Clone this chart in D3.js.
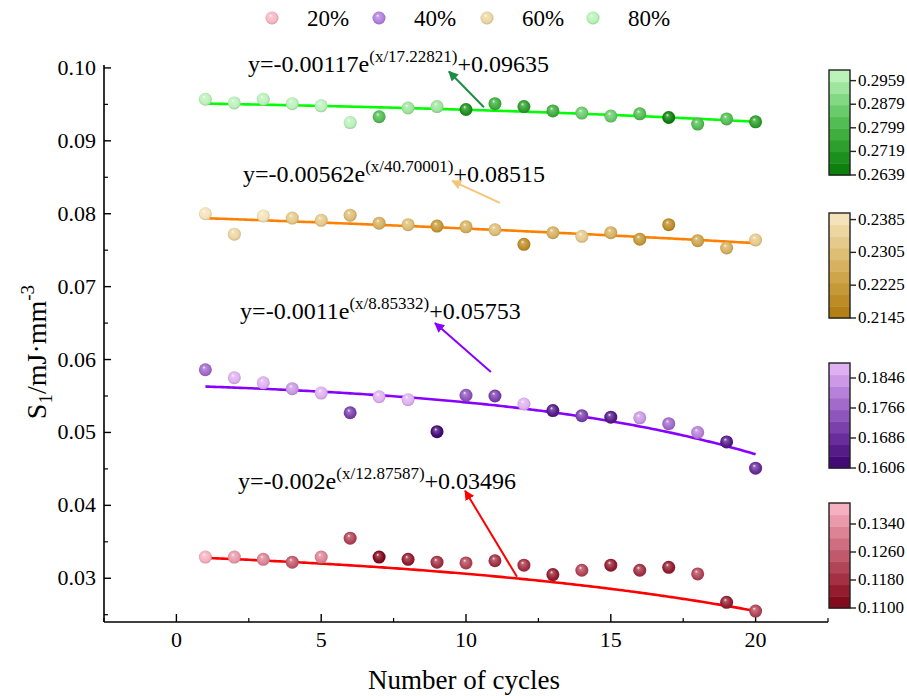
<!DOCTYPE html>
<html>
<head>
<meta charset="utf-8">
<title>S1 vs number of cycles</title>
<script src="https://cdn.jsdelivr.net/npm/d3@7/dist/d3.min.js"></script>
<style>
  body { margin: 0; background: #fff; }
  text { font-family: "Liberation Serif", "Times New Roman", serif; fill: #000; }
</style>
</head>
<body>
<script>
// ---- data ----
var cycles = d3.range(1, 21);

var s1_20 = [0.0329, 0.0329, 0.0326, 0.0322, 0.0329, 0.0355, 0.0329, 0.0326, 0.0322, 0.0321,
             0.0324, 0.0318, 0.0305, 0.0311, 0.0318, 0.0311, 0.0315, 0.0306, 0.0267, 0.0255];
var s1_40 = [0.0586, 0.0575, 0.0568, 0.0560, 0.0554, 0.0527, 0.0549, 0.0545, 0.0501, 0.0551,
             0.0550, 0.0539, 0.0530, 0.0523, 0.0521, 0.0520, 0.0512, 0.0500, 0.0487, 0.0451];
var s1_60 = [0.0800, 0.0772, 0.0797, 0.0794, 0.0791, 0.0798, 0.0787, 0.0785, 0.0783, 0.0782,
             0.0778, 0.0758, 0.0774, 0.0769, 0.0774, 0.0765, 0.0785, 0.0763, 0.0753, 0.0764];
var s1_80 = [0.0957, 0.0952, 0.0957, 0.0951, 0.0948, 0.0925, 0.0933, 0.0945, 0.0947, 0.0943,
             0.0951, 0.0947, 0.0941, 0.0938, 0.0934, 0.0937, 0.0932, 0.0923, 0.0930, 0.0926];

// colour-mapped variable of every point
var z_20 = [0.139, 0.134, 0.132, 0.124, 0.132, 0.122, 0.112, 0.116, 0.120, 0.122,
            0.117, 0.118, 0.116, 0.121, 0.114, 0.118, 0.116, 0.123, 0.115, 0.121];
var z_40 = [0.178, 0.186, 0.187, 0.185, 0.186, 0.172, 0.186, 0.187, 0.162, 0.176,
            0.170, 0.188, 0.164, 0.170, 0.166, 0.183, 0.179, 0.181, 0.166, 0.168];
var z_60 = [0.238, 0.236, 0.238, 0.232, 0.233, 0.230, 0.226, 0.230, 0.222, 0.226,
            0.230, 0.218, 0.228, 0.232, 0.226, 0.222, 0.218, 0.224, 0.226, 0.232];
var z_80 = [0.298, 0.296, 0.297, 0.296, 0.296, 0.297, 0.282, 0.295, 0.295, 0.268,
            0.278, 0.275, 0.279, 0.284, 0.285, 0.280, 0.267, 0.282, 0.281, 0.274];

// y = A*exp(x/t) + y0
var fit_20 = {A: -0.002, t: 12.87587, y0: 0.03496};
var fit_40 = {A: -0.0011, t: 8.85332, y0: 0.05753};
var fit_60 = {A: -0.00562, t: 40.70001, y0: 0.08515};
var fit_80 = {A: -0.00117, t: 17.22821, y0: 0.09635};

var fitText_20 = ["y=-0.002e", "(x/12.87587)", "+0.03496"];
var fitText_40 = ["y=-0.0011e", "(x/8.85332)", "+0.05753"];
var fitText_60 = ["y=-0.00562e", "(x/40.70001)", "+0.08515"];
var fitText_80 = ["y=-0.00117e", "(x/17.22821)", "+0.09635"];

// colour bars: [min, max] and tick values
var cbar_20 = [0.1100, 0.1400], cbarTicks_20 = [0.1100, 0.1180, 0.1260, 0.1340];
var cbar_40 = [0.1606, 0.1886], cbarTicks_40 = [0.1606, 0.1686, 0.1766, 0.1846];
var cbar_60 = [0.2145, 0.2401], cbarTicks_60 = [0.2145, 0.2225, 0.2305, 0.2385];
var cbar_80 = [0.2639, 0.2995], cbarTicks_80 = [0.2639, 0.2719, 0.2799, 0.2879, 0.2959];

var xTicks = [0, 5, 10, 15, 20];
var yTicks = [0.03, 0.04, 0.05, 0.06, 0.07, 0.08, 0.09, 0.10];
var legendLabels = ["20%", "40%", "60%", "80%"];

(function () {
  // ---- layout ----
  var width = 907, height = 696;
  var mLeft = 104, mRight = 828, mTop = 65, mBottom = 622;

  var series = [
    {name: legendLabels[0], v: s1_20, z: z_20, fit: fit_20, txt: fitText_20, cb: cbar_20, cbt: cbarTicks_20,
     ramp: ["#7a0012", "#c4566a", "#fbbccb"], line: "#ff0000", arrow: "#ff0000", legend: "#f9b7c6",
     cbTop: 503, txtAt: [2.13, 0.0423], arr: [[11.76, 0.0302], [9.97, 0.0420]]},
    {name: legendLabels[1], v: s1_40, z: z_40, fit: fit_40, txt: fitText_40, cb: cbar_40, cbt: cbarTicks_40,
     ramp: ["#3a006c", "#8c50c2", "#ebbdf8"], line: "#8800ff", arrow: "#8800ff", legend: "#b27fdf",
     cbTop: 363, txtAt: [2.20, 0.0655], arr: [[10.86, 0.0583], [8.93, 0.0650]]},
    {name: legendLabels[2], v: s1_60, z: z_60, fit: fit_60, txt: fitText_60, cb: cbar_60, cbt: cbarTicks_60,
     ramp: ["#b07a0c", "#d8b15a", "#f8e9c6"], line: "#ff8000", arrow: "#f7c47a", legend: "#ecd7a4",
     cbTop: 213, txtAt: [2.30, 0.0843], arr: [[11.17, 0.0815], [9.52, 0.0845]]},
    {name: legendLabels[3], v: s1_80, z: z_80, fit: fit_80, txt: fitText_80, cb: cbar_80, cbt: cbarTicks_80,
     ramp: ["#067806", "#48bf48", "#c8f8c8"], line: "#00ff00", arrow: "#1e8c45", legend: "#b5f5b5",
     cbTop: 70, txtAt: [2.47, 0.0995], arr: [[10.62, 0.0946], [9.41, 0.0995]]}
  ];

  var nBands = 9, cbW = 21, cbH = 105, cbX = 829;

  var svg = d3.select("body").append("svg").attr("width", width).attr("height", height);
  var defs = svg.append("defs");

  var x = d3.scaleLinear().domain([-2.5, 22.5]).range([mLeft, mRight]);
  var y = d3.scaleLinear().domain([0.024, 0.1004]).range([mBottom, mTop]);

  // sphere shading
  var gradId = 0;
  function sphere(color) {
    var id = "sph" + (gradId++);
    var c = d3.color(color);
    var g = defs.append("radialGradient").attr("id", id)
      .attr("cx", "50%").attr("cy", "50%").attr("r", "55%").attr("fx", "38%").attr("fy", "30%");
    g.append("stop").attr("offset", "0%").attr("stop-color", d3.interpolateRgb(c, "#fff")(0.92));
    g.append("stop").attr("offset", "22%").attr("stop-color", d3.interpolateRgb(c, "#fff")(0.25));
    g.append("stop").attr("offset", "70%").attr("stop-color", c.formatHex());
    g.append("stop").attr("offset", "100%").attr("stop-color", c.darker(0.6).formatHex());
    return "url(#" + id + ")";
  }

  // ---- axes ----
  var gx = svg.append("g").attr("transform", "translate(0," + mBottom + ")");
  gx.append("line").attr("x1", mLeft).attr("x2", mRight).attr("stroke", "#000").attr("stroke-width", 1.6);
  gx.selectAll(".mj").data(xTicks).enter().append("line")
    .attr("x1", d => x(d)).attr("x2", d => x(d)).attr("y1", 0).attr("y2", -8)
    .attr("stroke", "#000").attr("stroke-width", 1.4);
  gx.selectAll(".mn").data(d3.range(-2.5, 22.6, 5)).enter().append("line")
    .attr("x1", d => x(d)).attr("x2", d => x(d)).attr("y1", 0).attr("y2", -4)
    .attr("stroke", "#000").attr("stroke-width", 1.2);
  gx.selectAll("text").data(xTicks).enter().append("text")
    .attr("x", d => x(d)).attr("y", 25).attr("text-anchor", "middle")
    .attr("font-size", 22).text(d => d);

  var gy = svg.append("g").attr("transform", "translate(" + mLeft + ",0)");
  gy.append("line").attr("y1", mTop).attr("y2", mBottom).attr("stroke", "#000").attr("stroke-width", 1.6);
  gy.selectAll(".mj").data(yTicks).enter().append("line")
    .attr("y1", d => y(d)).attr("y2", d => y(d)).attr("x1", 0).attr("x2", 7)
    .attr("stroke", "#000").attr("stroke-width", 1.4);
  gy.selectAll(".mn").data([0.025, 0.035, 0.045, 0.055, 0.065, 0.075, 0.085, 0.095]).enter().append("line")
    .attr("y1", d => y(d)).attr("y2", d => y(d)).attr("x1", 0).attr("x2", 4)
    .attr("stroke", "#000").attr("stroke-width", 1.2);
  gy.selectAll("text").data(yTicks).enter().append("text")
    .attr("x", -8).attr("y", d => y(d) + 7).attr("text-anchor", "end")
    .attr("font-size", 22).text(d => d3.format(".2f")(d));

  svg.append("text").attr("x", (mLeft + mRight) / 2 - 2).attr("y", 689).attr("text-anchor", "middle")
    .attr("font-size", 27).text("Number of cycles");

  var yt = svg.append("text").attr("transform", "translate(46,352) rotate(-90)")
    .attr("text-anchor", "middle").attr("font-size", 28);
  yt.append("tspan").text("S");
  yt.append("tspan").attr("font-size", 19).attr("dy", 6).text("1");
  yt.append("tspan").attr("dy", -6).text("/mJ\u00b7mm");
  yt.append("tspan").attr("font-size", 19).attr("dy", -12).text("-3");

  // ---- fits, points ----
  series.forEach(function (s) {
    var band = d3.scaleQuantize().domain(s.cb).range(d3.range(nBands));
    var ramp = d3.interpolateRgbBasis(s.ramp);
    s.bandColor = function (i) { return ramp((i + 0.5) / nBands); };

    var pts = d3.range(1, 20.01, 0.1);
    svg.append("path").datum(pts)
      .attr("fill", "none").attr("stroke", s.line).attr("stroke-width", 2.6)
      .attr("d", d3.line().x(d => x(d)).y(d => y(s.fit.A * Math.exp(d / s.fit.t) + s.fit.y0)));

    svg.append("g").selectAll("circle").data(cycles).enter().append("circle")
      .attr("cx", d => x(d)).attr("cy", (d, i) => y(s.v[i])).attr("r", 6.5)
      .attr("fill", (d, i) => sphere(s.bandColor(band(s.z[i]))));
  });

  // ---- equations and arrows ----
  series.forEach(function (s, k) {
    var mk = "arr" + k;
    defs.append("marker").attr("id", mk).attr("viewBox", "0 0 10 10").attr("refX", 9).attr("refY", 5)
      .attr("markerWidth", 5).attr("markerHeight", 5).attr("orient", "auto").attr("markerUnits", "strokeWidth")
      .append("path").attr("d", "M0,0 L10,5 L0,10 Z").attr("fill", s.arrow);
    svg.append("line")
      .attr("x1", x(s.arr[0][0])).attr("y1", y(s.arr[0][1]))
      .attr("x2", x(s.arr[1][0])).attr("y2", y(s.arr[1][1]))
      .attr("stroke", s.arrow).attr("stroke-width", 2).attr("marker-end", "url(#" + mk + ")");

    var t = svg.append("text").attr("x", x(s.txtAt[0])).attr("y", y(s.txtAt[1])).attr("font-size", 24);
    t.append("tspan").text(s.txt[0]);
    t.append("tspan").attr("font-size", 17).attr("dy", -10).text(s.txt[1]);
    t.append("tspan").attr("dy", 10).text(s.txt[2]);
  });

  // ---- colour bars ----
  series.forEach(function (s) {
    var cy = d3.scaleLinear().domain(s.cb).range([s.cbTop + cbH, s.cbTop]);
    var g = svg.append("g");
    var bands = d3.range(nBands);
    var step = (s.cb[1] - s.cb[0]) / nBands;
    g.selectAll("rect").data(bands).enter().append("rect")
      .attr("x", cbX).attr("width", cbW)
      .attr("y", i => cy(s.cb[0] + (i + 1) * step))
      .attr("height", i => cy(s.cb[0] + i * step) - cy(s.cb[0] + (i + 1) * step) + 0.5)
      .attr("fill", i => s.bandColor(i));
    g.append("rect").attr("x", cbX).attr("y", s.cbTop).attr("width", cbW).attr("height", cbH)
      .attr("fill", "none").attr("stroke", "#222").attr("stroke-width", 1.4);
    g.selectAll(".tk").data(s.cbt).enter().append("line")
      .attr("x1", cbX + cbW).attr("x2", cbX + cbW + 6).attr("y1", d => cy(d)).attr("y2", d => cy(d))
      .attr("stroke", "#222").attr("stroke-width", 1.4);
    g.selectAll("text").data(s.cbt).enter().append("text")
      .attr("x", cbX + cbW + 8).attr("y", d => cy(d) + 5).attr("font-size", 17)
      .text(d => d3.format(".4f")(d));
  });

  // ---- legend ----
  var lg = svg.append("g");
  var legX = [272, 379, 487, 593];
  series.forEach(function (s, i) {
    lg.append("circle").attr("cx", legX[i]).attr("cy", 18).attr("r", 6.5).attr("fill", sphere(s.legend));
    lg.append("text").attr("x", legX[i] + 35).attr("y", 26).attr("font-size", 23).text(s.name);
  });
})();
</script>
</body>
</html>
